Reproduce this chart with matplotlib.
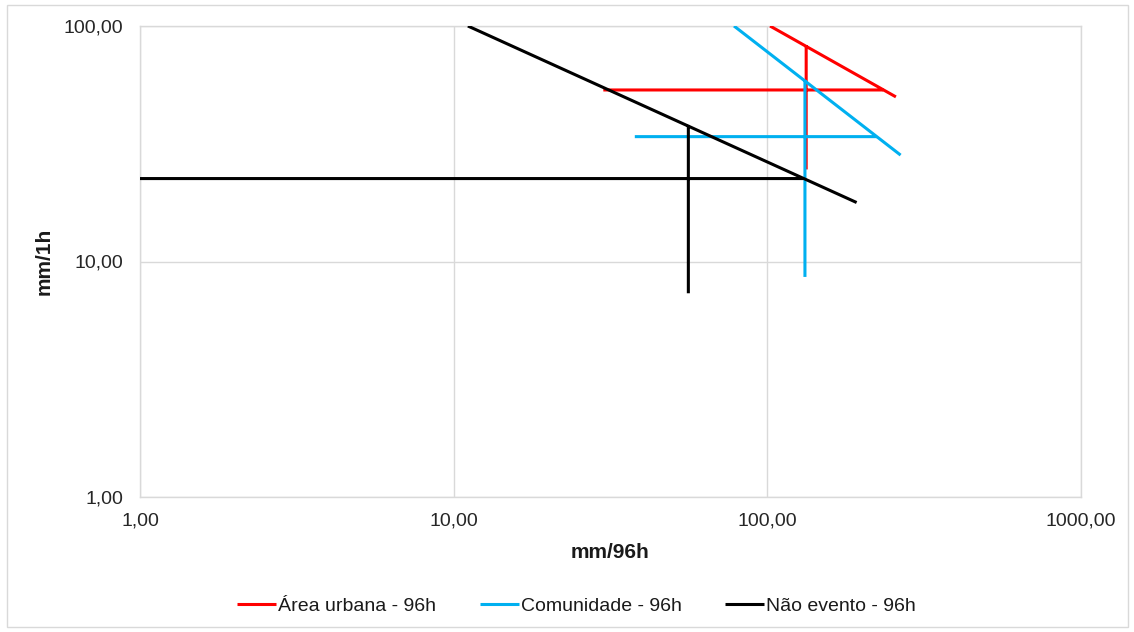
import numpy as np
import matplotlib
matplotlib.use("Agg")
import matplotlib.pyplot as plt
from matplotlib.ticker import FixedLocator, FuncFormatter, NullLocator
from matplotlib.patches import Rectangle

plt.rcParams['font.family'] = ['Liberation Sans', 'DejaVu Sans']

# Each series: decision line (diagonal), 1h threshold (horizontal), 96h threshold (vertical)
# Segments are separated by NaN.
urbana_x = [102.0, 257.0, np.nan, 30.0, 234.0, np.nan, 133.0, 133.0]
urbana_y = [100.0, 50.0, np.nan, 53.5, 53.5, np.nan, 83.0, 24.6]

comunidade_x = [78.3, 266.0, np.nan, 37.8, 223.0, np.nan, 131.8, 131.8]
comunidade_y = [100.0, 28.3, np.nan, 33.9, 33.9, np.nan, 59.0, 8.6]

nao_evento_x = [11.1, 192.6, np.nan, 1.0, 130.0, np.nan, 56.0, 56.0]
nao_evento_y = [100.0, 17.8, np.nan, 22.5, 22.5, np.nan, 38.0, 7.33]

series_labels = ["Área urbana - 96h", "Comunidade - 96h", "Não evento - 96h"]
series_colors = ["#ff0000", "#00b0f0", "#000000"]

x_ticks = [1, 10, 100, 1000]
y_ticks = [1, 10, 100]

W, H = 1134, 632
fig = plt.figure(figsize=(W / 100, H / 100), dpi=100)
ax = fig.add_axes([140 / W, 1 - 497 / H, 941 / W, 471 / H])

series = [(urbana_x, urbana_y), (comunidade_x, comunidade_y), (nao_evento_x, nao_evento_y)]
for (xs, ys), lab, col in zip(series, series_labels, series_colors):
    ax.plot(xs, ys, color=col, lw=2.2, label=lab, solid_capstyle='butt', zorder=3)

ax.set_xscale('log')
ax.set_yscale('log')
ax.set_xlim(1, 1000)
ax.set_ylim(1, 100)

fmt = FuncFormatter(lambda v, p: f"{v:.2f}".replace('.', ','))
ax.xaxis.set_major_locator(FixedLocator(x_ticks))
ax.yaxis.set_major_locator(FixedLocator(y_ticks))
ax.xaxis.set_minor_locator(NullLocator())
ax.yaxis.set_minor_locator(NullLocator())
ax.xaxis.set_major_formatter(fmt)
ax.yaxis.set_major_formatter(fmt)
ax.tick_params(axis='both', length=0, labelsize=14, colors='#262626')
ax.tick_params(axis='y', pad=12)
ax.tick_params(axis='x', pad=11)

ax.grid(True, which='major', color='#d9d9d9', lw=1)
for s in ax.spines.values():
    s.set_color('#d9d9d9')
    s.set_linewidth(1)

ax.set_xlabel("mm/96h", fontsize=15, fontweight='bold', color='#1a1a1a', va='center')
ax.xaxis.set_label_coords(0.4995, (497 - 552) / 471)
ax.set_ylabel("mm/1h", fontsize=15, fontweight='bold', color='#1a1a1a', va='center')
ax.yaxis.set_label_coords((44 - 140) / 941, 0.5)

leg = fig.legend(loc='center', bbox_to_anchor=(576.5 / W, 1 - 606 / H), ncol=3, frameon=False,
                 fontsize=14, handlelength=2.0, handletextpad=0.1, columnspacing=2.25,
                 borderaxespad=0, borderpad=0)
for t in leg.get_texts():
    t.set_color('#1a1a1a')

fig.patches.append(Rectangle((6.5 / W, 5 / H), (1128 - 6.5) / W, (627 - 5) / H,
                             transform=fig.transFigure, fill=False, edgecolor='#d9d9d9', lw=1))

fig.savefig("out.png", dpi=100, facecolor='white')
